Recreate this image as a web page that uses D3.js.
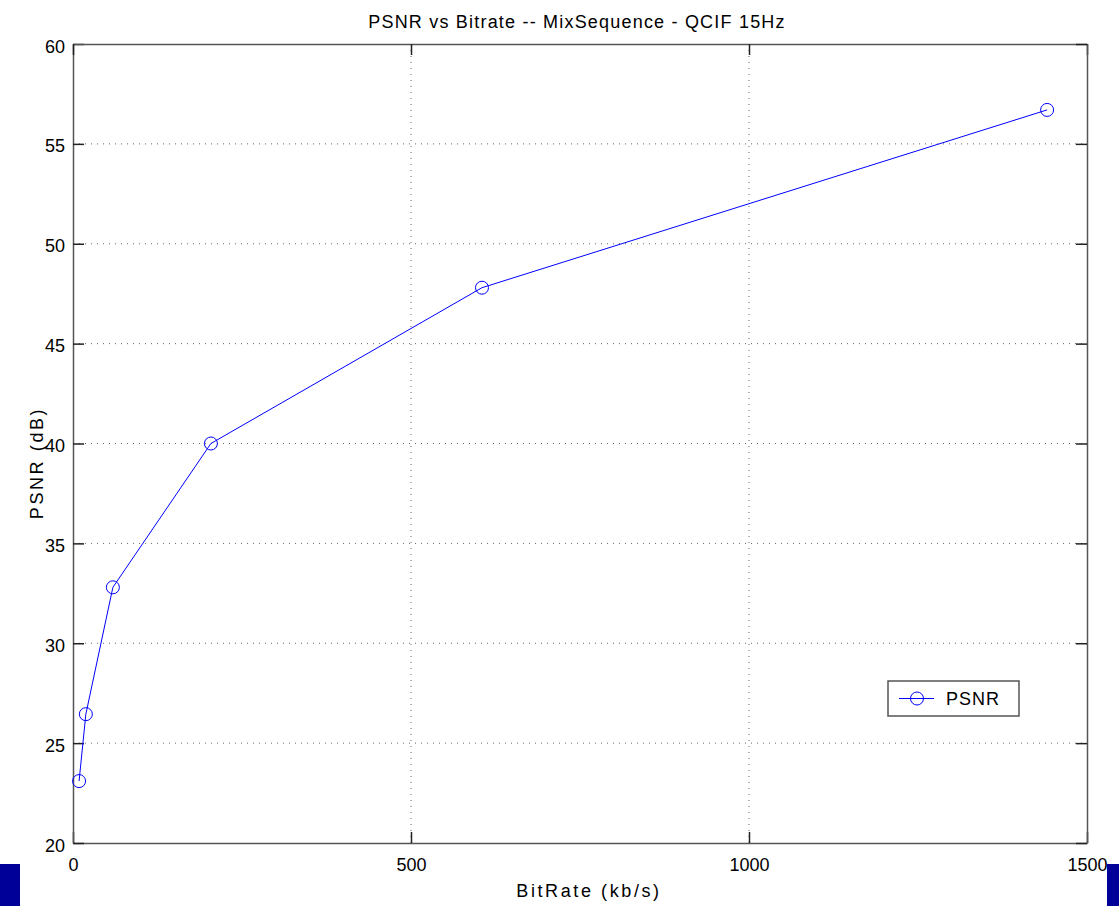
<!DOCTYPE html>
<html>
<head>
<meta charset="utf-8">
<script src="https://cdn.jsdelivr.net/npm/d3@7"></script>
<style>
  body { margin: 0; background: #fff; }
  svg { display: block; font-family: "Liberation Sans", Arial, Helvetica, sans-serif; }
</style>
</head>
<body>
<div id="chart"></div>
<script>
// bitrate (kb/s) and PSNR (dB)
const bitrate = [9, 19, 59, 204, 605, 1441];
const psnr = [23.1, 26.45, 32.8, 40.0, 47.8, 56.7];
const xTicks = [0, 500, 1000, 1500];
const yTicks = [20, 25, 30, 35, 40, 45, 50, 55, 60];
const seriesName = 'PSNR';

const width = 1119, height = 906;
const margin = { top: 44, right: 32, bottom: 63, left: 73 };
const chartWidth = width - margin.left - margin.right;
const chartHeight = height - margin.top - margin.bottom;

const svg = d3.select('#chart').append('svg')
  .attr('width', width)
  .attr('height', height);

const g = svg.append('g')
  .attr('transform', `translate(${margin.left},${margin.top})`);

const x = d3.scaleLinear().domain([0, 1500]).range([0, chartWidth]);
const y = d3.scaleLinear().domain([20, 60]).range([chartHeight, 0]);

// dotted grid
g.append('g').selectAll('line')
  .data(xTicks.slice(1, -1))
  .join('line')
  .attr('x1', d => x(d)).attr('x2', d => x(d))
  .attr('y1', 0).attr('y2', chartHeight)
  .attr('stroke', '#666')
  .attr('stroke-dasharray', '1 5');
g.append('g').selectAll('line')
  .data(yTicks.slice(1, -1))
  .join('line')
  .attr('x1', 0).attr('x2', chartWidth)
  .attr('y1', d => y(d)).attr('y2', d => y(d))
  .attr('stroke', '#666')
  .attr('stroke-dasharray', '1 5');

// axes with inward ticks, on all four sides
const tick = 11;
const fmt = d3.format('d');
const axBottom = g.append('g')
  .attr('transform', `translate(0,${chartHeight})`)
  .call(d3.axisBottom(x).tickValues(xTicks).tickFormat(fmt).tickSizeInner(-tick).tickSizeOuter(0).tickPadding(tick + 4));
const axLeft = g.append('g')
  .call(d3.axisLeft(y).tickValues(yTicks).tickFormat(fmt).tickSizeInner(-tick).tickSizeOuter(0).tickPadding(8));
const axTop = g.append('g')
  .call(d3.axisTop(x).tickValues(xTicks).tickSizeInner(-tick).tickSizeOuter(0).tickFormat(''));
const axRight = g.append('g')
  .attr('transform', `translate(${chartWidth},0)`)
  .call(d3.axisRight(y).tickValues(yTicks).tickSizeInner(-tick).tickSizeOuter(0).tickFormat(''));

[axBottom, axLeft, axTop, axRight].forEach(a => {
  a.select('.domain').attr('stroke', '#555').attr('stroke-width', 1.5);
  a.selectAll('.tick line').attr('stroke', '#222').attr('stroke-width', 1.5);
  a.selectAll('.tick text')
    .attr('font-size', 18)
    .attr('fill', '#000')
    .attr('font-family', '"Liberation Sans", Arial, sans-serif');
});
axBottom.selectAll('.tick text').attr('dy', '0.71em');
axLeft.selectAll('.tick text').attr('dy', '0.45em');

// data line and markers
const line = d3.line()
  .x((d, i) => x(bitrate[i]))
  .y(d => y(d));

g.append('path')
  .datum(psnr)
  .attr('fill', 'none')
  .attr('stroke', '#0000ff')
  .attr('stroke-width', 1)
  .attr('d', line);

g.append('g').selectAll('circle')
  .data(psnr)
  .join('circle')
  .attr('cx', (d, i) => x(bitrate[i]))
  .attr('cy', d => y(d))
  .attr('r', 6.5)
  .attr('fill', 'none')
  .attr('stroke', '#0000ff')
  .attr('stroke-width', 1);

// legend
const legend = svg.append('g').attr('transform', 'translate(888,681)');
legend.append('rect')
  .attr('width', 131).attr('height', 35)
  .attr('fill', '#fff')
  .attr('stroke', '#555')
  .attr('stroke-width', 1.5);
legend.append('line')
  .attr('x1', 11).attr('x2', 46)
  .attr('y1', 17.5).attr('y2', 17.5)
  .attr('stroke', '#0000ff');
legend.append('circle')
  .attr('cx', 29).attr('cy', 17.5).attr('r', 6.5)
  .attr('fill', 'none').attr('stroke', '#0000ff');
legend.append('text')
  .attr('x', 58).attr('y', 24)
  .attr('font-size', 18)
  .attr('letter-spacing', 1)
  .text(seriesName);

// titles
svg.append('text')
  .attr('x', 577)
  .attr('y', 28)
  .attr('text-anchor', 'middle')
  .attr('font-size', 18)
  .attr('letter-spacing', 1.2)
  .text('PSNR vs Bitrate -- MixSequence - QCIF 15Hz');

svg.append('text')
  .attr('x', 589)
  .attr('y', 897)
  .attr('text-anchor', 'middle')
  .attr('font-size', 18)
  .attr('letter-spacing', 2.6)
  .text('BitRate (kb/s)');

svg.append('text')
  .attr('transform', 'translate(43,463) rotate(-90)')
  .attr('text-anchor', 'middle')
  .attr('font-size', 18)
  .attr('letter-spacing', 2.6)
  .text('PSNR (dB)');

// dark blue blocks at the bottom corners
svg.append('rect').attr('x', 0).attr('y', 864).attr('width', 20).attr('height', 42).attr('fill', '#000099');
svg.append('rect').attr('x', 1107).attr('y', 864).attr('width', 12).attr('height', 42).attr('fill', '#000099');
</script>
</body>
</html>
